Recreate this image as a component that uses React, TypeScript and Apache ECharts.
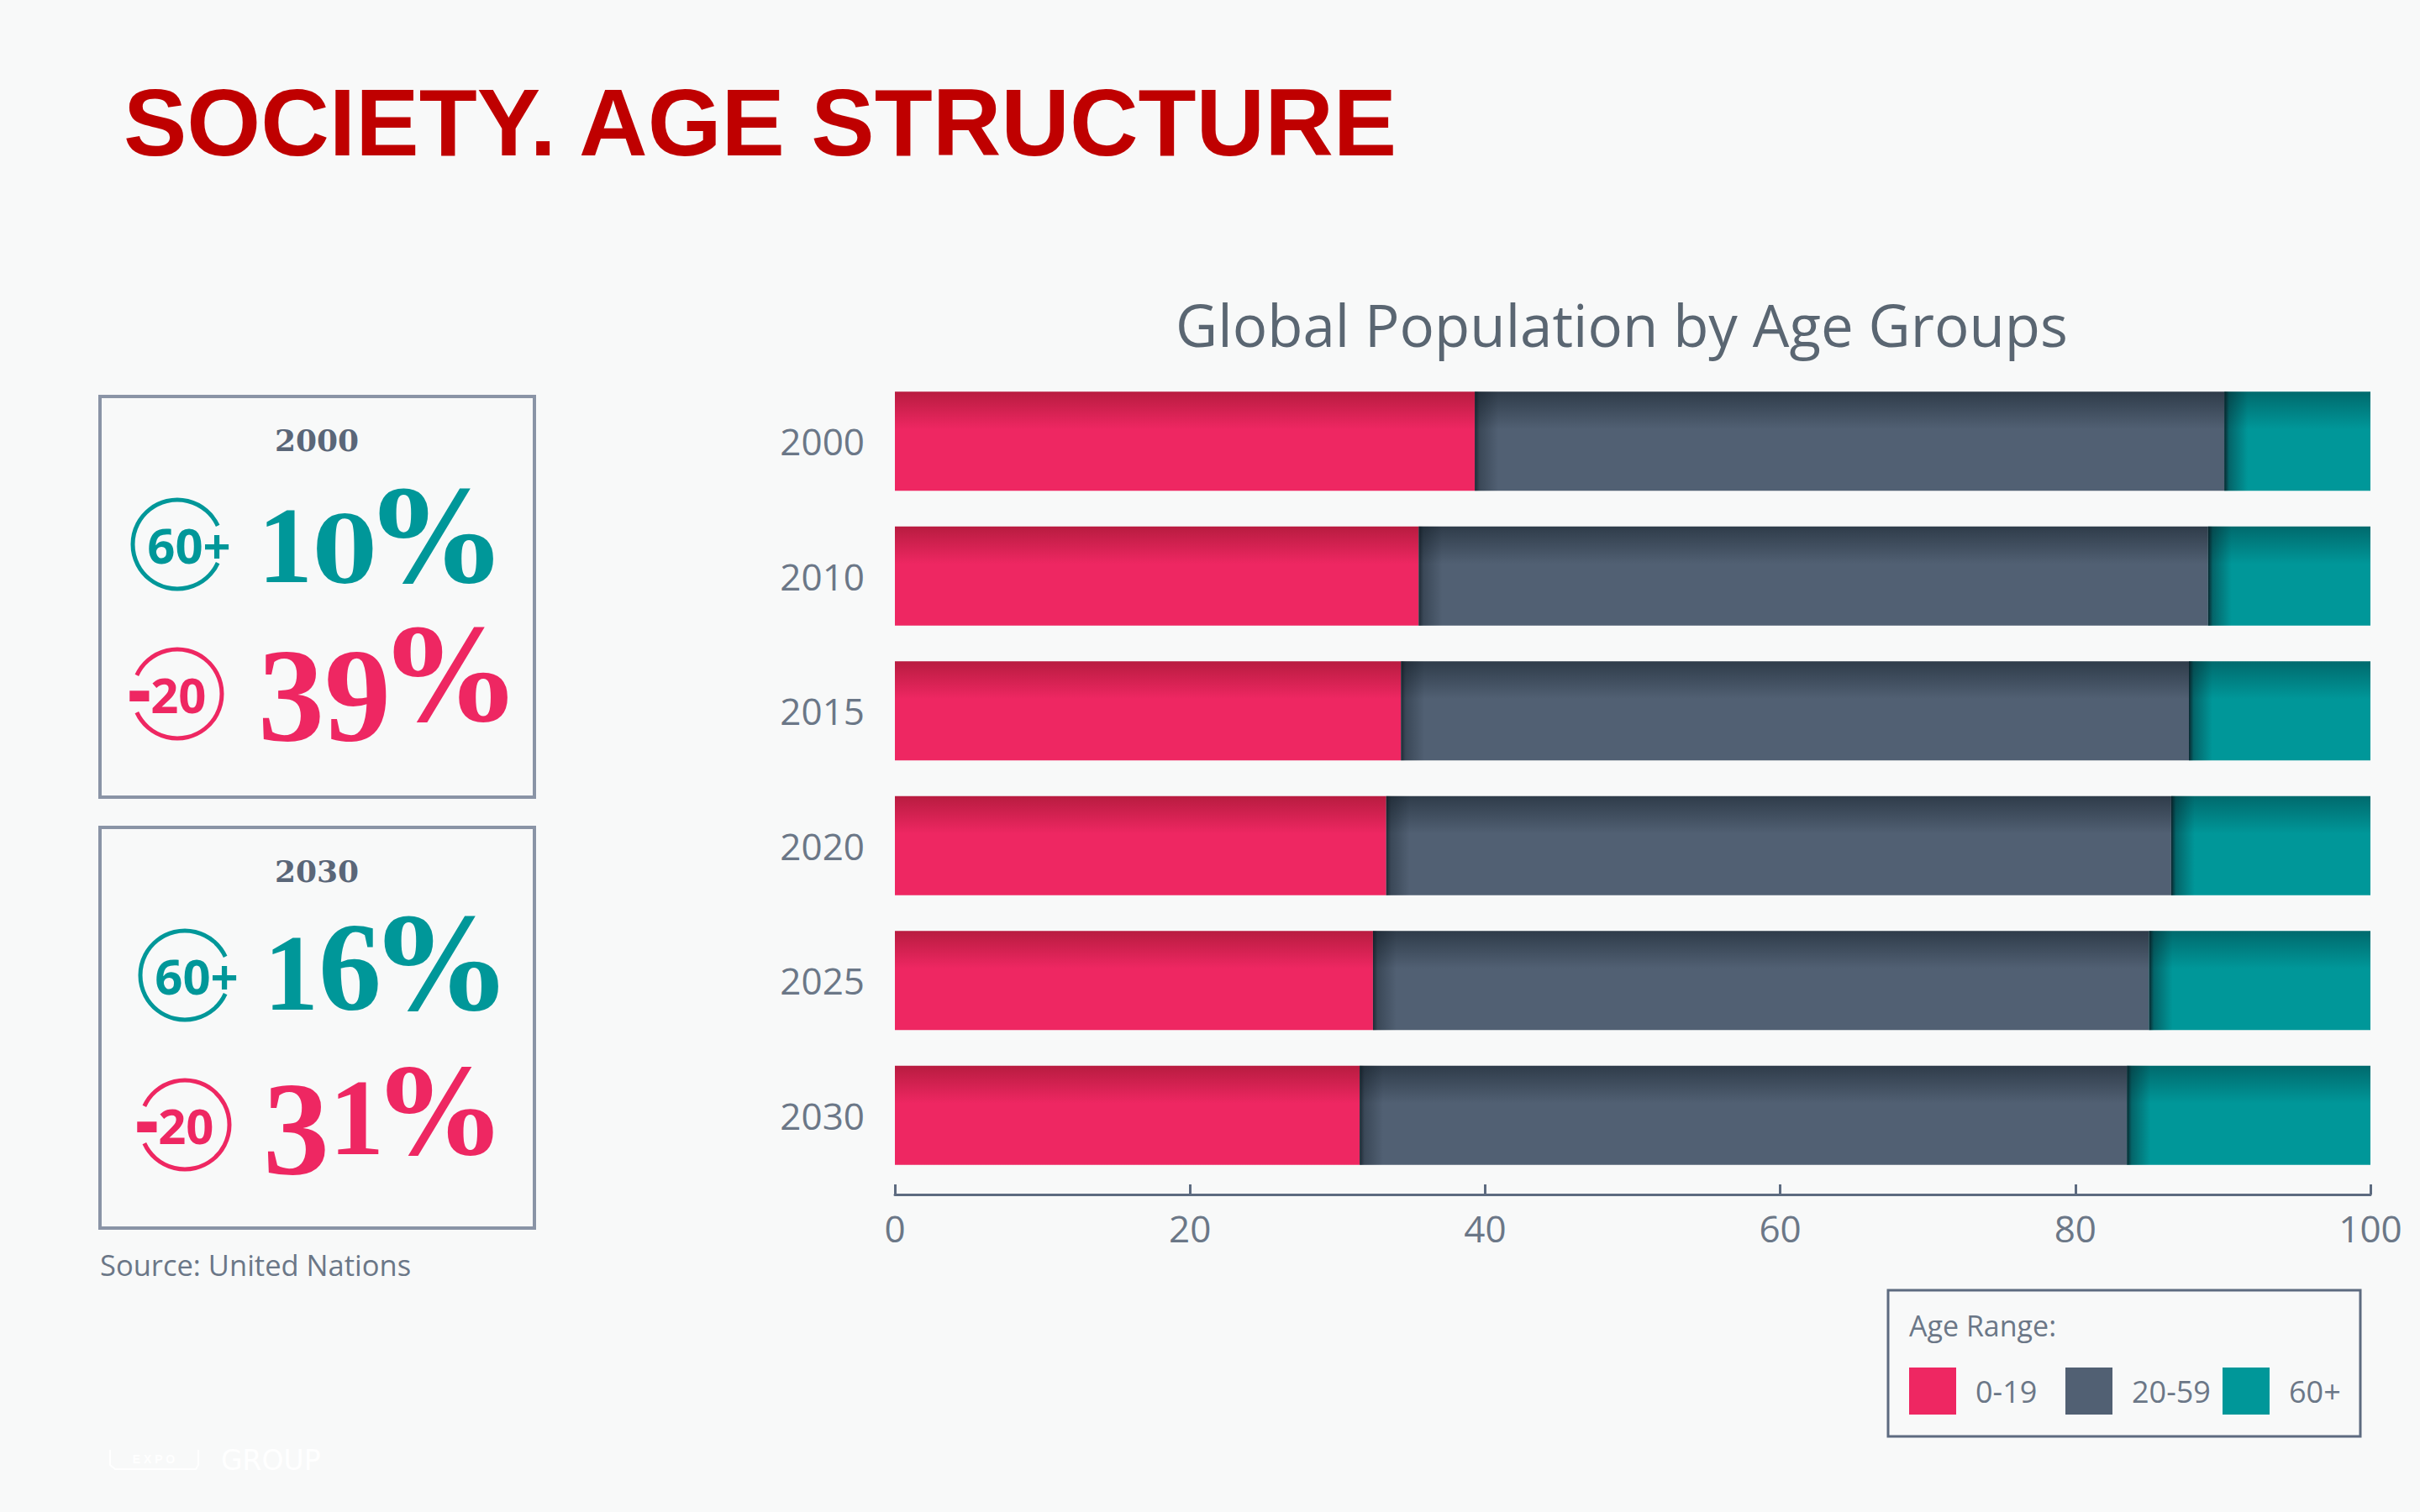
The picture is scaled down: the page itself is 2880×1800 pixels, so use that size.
import React, { useEffect, useRef } from "react";
import * as echarts from "echarts";

const years = ["2000", "2010", "2015", "2020", "2025", "2030"];
const young = [39.3, 35.5, 34.3, 33.3, 32.4, 31.5];
const middle = [50.8, 53.5, 53.4, 53.2, 52.6, 52.0];
const old = [9.9, 11.0, 12.3, 13.5, 15.0, 16.5];
const rangeNames = ["0-19", "20-59", "60+"];
const legendColors = ["#ee2762", "#516073", "#009799"];
const PINK = "#ee2762";
const SLATE = "#516073";
const TEAL = "#009799";
const BORDER = "#8a94a6";
const TEXT = "#6b7787";
const SANS = "Open Sans";
const LIB = "Liberation Serif";
const DEJA = "DejaVu Serif";

const vgrad = (top: string, base: string) =>
  new echarts.graphic.LinearGradient(0, 0, 0, 1, [
    { offset: 0, color: top },
    { offset: 0.38, color: base },
    { offset: 1, color: base },
  ]);

// old-style figures emulated digit by digit
const glyphSize: Record<string, number> = { "1": 130, "0": 110, "3": 158, "9": 158, "6": 150 };
const glyphAdvance: Record<string, number> = { "1": 65, "0": 76, "3": 79, "9": 79, "6": 75 };
function stat(x: number, base: number, digits: string, color: string, pct: number) {
  const out: any[] = [];
  let cx = x;
  for (const ch of digits) {
    const dejavu = ch === "0";
    const size = glyphSize[ch];
    const drop = ch === "3" || ch === "9" ? 23 : 0;
    const k = dejavu ? 0.3515 : 0.3375;
    out.push({
      type: "text",
      x: cx,
      y: base + drop - k * size,
      style: {
        text: ch,
        fontFamily: dejavu ? DEJA : LIB,
        fontWeight: "bold",
        fontSize: size,
        fill: color,
        verticalAlign: "middle",
      },
    });
    cx += glyphAdvance[ch];
  }
  out.push({
    type: "text",
    x: cx,
    y: base - 0.3515 * pct,
    style: { text: "%", fontFamily: DEJA, fontWeight: "bold", fontSize: pct, fill: color, verticalAlign: "middle" },
  });
  return out;
}

function icon(cx: number, cy: number, color: string, right: boolean) {
  const gap = 0.43;
  const arc = right
    ? { startAngle: gap, endAngle: Math.PI * 2 - gap }
    : { startAngle: Math.PI + gap, endAngle: Math.PI * 3 - gap };
  return [
    {
      type: "arc",
      shape: { cx, cy, r: 53, clockwise: true, ...arc },
      style: { stroke: color, fill: "none", lineWidth: 5 },
    },
    {
      type: "text",
      x: right ? cx + 14 : cx - 12,
      y: cy,
      style: right
        ? { text: "60+", fontFamily: SANS, fontWeight: 700, fontSize: 58, fill: color, align: "center", verticalAlign: "middle" }
        : {
            text: "{m|-}{n|20}",
            align: "center",
            verticalAlign: "middle",
            rich: {
              m: { fontFamily: SANS, fontWeight: 800, fontSize: 84, fill: color, color, padding: [0, 0, 16, 0] },
              n: { fontFamily: SANS, fontWeight: 700, fontSize: 58, fill: color, color },
            },
          },
    },
  ];
}

function panel(y: number, dx: number, year: string, hi: string, lo: string, hiBase: number, loBase: number, hiX: number, loX: number, loPct: number) {
  return [
    {
      type: "rect",
      shape: { x: 119, y, width: 517, height: 477 },
      style: { fill: "none", stroke: BORDER, lineWidth: 4 },
    },
    {
      type: "text",
      x: 377,
      y: y + 52,
      style: {
        text: year,
        fontFamily: DEJA,
        fontWeight: "bold",
        fontSize: 36,
        fill: "#5a6678",
        align: "center",
        verticalAlign: "middle",
      },
    },
    ...icon(211 + dx, y + 176, TEAL, true),
    ...icon(211 + dx, y + 354, PINK, false),
    ...stat(hiX, hiBase, hi, TEAL, 150),
    ...stat(loX, loBase, lo, PINK, loPct),
  ];
}

const legendItem = (name: string, i: number) => ({
  data: [{ name, icon: "rect", itemStyle: { color: legendColors[i] } }],
  left: [2272, 2458, 2645][i],
  top: 1628,
  itemWidth: 56,
  itemHeight: 56,
  padding: 0,
  textStyle: { color: TEXT, fontFamily: SANS, fontSize: 36, padding: [0, 0, 4, 18] },
});

export default function App() {
  const ref = useRef<HTMLDivElement>(null);
  useEffect(() => {
    const chart = echarts.init(ref.current!, undefined, { renderer: "svg" });
    const cumMiddle = young.map((v, i) => v + middle[i]);
    const shade = (strong: number) => ({
      type: "custom",
      silent: true,
      z: 5,
      encode: { x: 0, y: 1 },
      renderItem: (_p: any, api: any) => {
        const start = api.coord([api.value(0), api.value(1)]);
        const barH = 118;
        return {
          type: "rect",
          shape: { x: start[0], y: start[1] - barH / 2, width: 28, height: barH },
          style: {
            fill: new echarts.graphic.LinearGradient(0, 0, 1, 0, [
              { offset: 0, color: `rgba(10,20,28,${strong})` },
              { offset: 0.2, color: `rgba(10,20,28,${strong * 0.45})` },
              { offset: 1, color: "rgba(10,20,28,0)" },
            ]),
          },
        };
      },
    });
    chart.setOption({
      animation: false,
      backgroundColor: "#f8f9f9",
      textStyle: { fontFamily: SANS },
      title: {
        text: "Global Population by Age Groups",
        left: 1925,
        top: 346,
        textAlign: "center",
        textStyle: { fontFamily: SANS, fontWeight: "normal", fontSize: 69, color: "#5a6672" },
      },
      grid: { left: 1065, right: 59, top: 445, height: 963 },
      xAxis: {
        type: "value",
        min: 0,
        max: 100,
        interval: 20,
        offset: 14,
        splitLine: { show: false },
        axisLine: { show: true, lineStyle: { color: "#5d6b80", width: 3 } },
        axisTick: { show: true, inside: true, length: 12, lineStyle: { color: "#5d6b80", width: 3 } },
        axisLabel: { color: TEXT, fontSize: 44, fontFamily: SANS, margin: 18 },
      },
      yAxis: {
        type: "category",
        inverse: true,
        data: years,
        axisLine: { show: false },
        axisTick: { show: false },
        axisLabel: { color: TEXT, fontSize: 44, fontFamily: SANS, margin: 36 },
      },
      legend: rangeNames.map((n, i) => legendItem(n, i)),
      series: [
        { name: rangeNames[0], type: "bar", stack: "a", barWidth: 118, data: young, itemStyle: { color: vgrad("#b81c40", PINK) } },
        { name: rangeNames[1], type: "bar", stack: "a", barWidth: 118, data: middle, itemStyle: { color: vgrad("#2f3c4a", SLATE) } },
        { name: rangeNames[2], type: "bar", stack: "a", barWidth: 118, data: old, itemStyle: { color: vgrad("#006a6d", TEAL) } },
        { ...shade(0.7), name: "edgeA", data: young.map((v, i) => [v, i]) },
        { ...shade(0.85), name: "edgeB", data: cumMiddle.map((v, i) => [v, i]) },
      ],
      graphic: [
        {
          type: "text",
          x: 147,
          y: 146,
          style: {
            text: "SOCIETY. AGE STRUCTURE",
            fontFamily: "Liberation Sans",
            fontWeight: "bold",
            fontSize: 113,
            fill: "#bf0000",
            verticalAlign: "middle",
          },
        },
        ...panel(472, 0, "2000", "10", "39", 693, 858, 307, 307, 150),
        ...panel(985, 9, "2030", "16", "31", 1202, 1374, 314, 313, 140),
        {
          type: "text",
          x: 119,
          y: 1505,
          style: { text: "Source: United Nations", fontFamily: SANS, fontSize: 34.5, fill: TEXT, verticalAlign: "middle" },
        },
        {
          type: "rect",
          shape: { x: 2247, y: 1536, width: 562, height: 174 },
          style: { fill: "none", stroke: "#5d6b80", lineWidth: 3 },
        },
        {
          type: "text",
          x: 2272,
          y: 1578,
          style: { text: "Age Range:", fontFamily: SANS, fontSize: 34, fill: TEXT, verticalAlign: "middle" },
        },
        {
          type: "polyline",
          shape: { points: [[131, 1726], [131, 1744], [137, 1749], [233, 1749], [236, 1744], [236, 1726]] },
          style: { stroke: "#ffffff", fill: "none", lineWidth: 2 },
        },
        {
          type: "text",
          x: 183,
          y: 1737,
          style: { text: "E X P O", fontFamily: "Liberation Sans", fontWeight: "bold", fontSize: 14, fill: "#ffffff", align: "center", verticalAlign: "middle" },
        },
        {
          type: "text",
          x: 263,
          y: 1738,
          style: { text: "GROUP", fontFamily: "DejaVu Sans", fontSize: 33, fill: "#ffffff", verticalAlign: "middle" },
        },
      ],
    });
    return () => chart.dispose();
  }, []);
  return <div ref={ref} style={{ position: "absolute", left: 0, top: 0, width: 2880, height: 1800 }} />;
}
